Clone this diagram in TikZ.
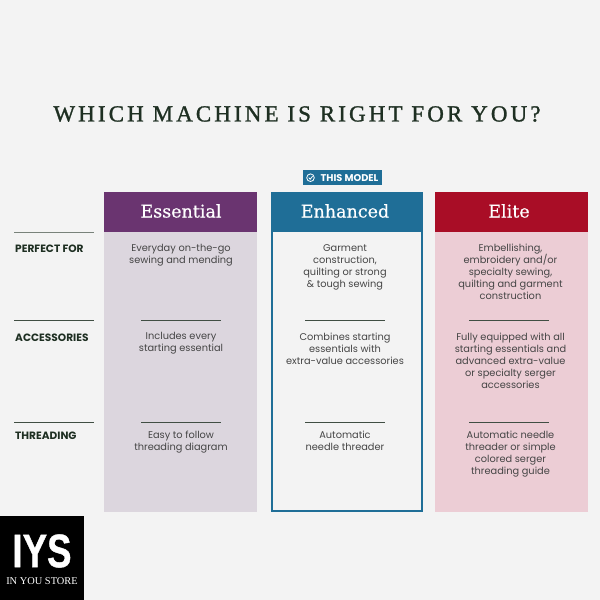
\documentclass[tikz,border=0pt]{standalone}
\usepackage{fontspec}
\setmainfont{Poppins}
\newfontfamily\slab[FakeBold=0.4]{DejaVu Serif}
\newfontfamily\titlef[LetterSpace=13.5,FakeBold=1.2]{Liberation Serif}
\newfontfamily\logof{Liberation Serif}
\newfontfamily\logob[FakeBold=1]{Liberation Sans}
\definecolor{bgc}{HTML}{F3F3F3}
\definecolor{txt}{HTML}{454545}
\definecolor{dark}{HTML}{1E2F22}
\definecolor{purp}{HTML}{6A3470}
\definecolor{purl}{HTML}{DCD6DE}
\definecolor{blu}{HTML}{1F6E97}
\definecolor{redd}{HTML}{A90D26}
\definecolor{redl}{HTML}{ECCDD5}
\tikzset{
 x=1pt,y=-1pt,
 body/.style={font=\fontsize{9.8}{12}\selectfont,text=txt,align=center,anchor=north,inner sep=0pt},
 rowlab/.style={font=\fontsize{10.6}{12}\selectfont\bfseries,text=dark,anchor=west,inner sep=0pt},
 head/.style={font=\slab\fontsize{17.5}{20}\selectfont,text=white,anchor=center,inner sep=0pt},
 rule/.style={line width=0.9pt,draw=dark!85},
}
\begin{document}
\begin{tikzpicture}
\useasboundingbox (0,0) rectangle (600,600);
\fill[bgc] (0,0) rectangle (600,600);
\node[font=\titlef\fontsize{23}{26}\selectfont,text=dark,inner sep=0pt] (title) at (297,114) {WHICH MACHINE IS RIGHT FOR YOU?};
% columns
\fill[purl] (104,232) rectangle (257,512);
\fill[purp] (104,192) rectangle (257,232);
\fill[redl] (435,232) rectangle (588,512);
\fill[redd] (435,192) rectangle (588,232);
\fill[blu] (271,192) rectangle (423,232);
\draw[blu,line width=1.8pt] (271.9,232) -- (271.9,511.1) -- (422.1,511.1) -- (422.1,232);
\node[head] (h1) at (181,211) {Essential};
\node[head] (h2) at (345,211) {Enhanced};
\node[head] (h3) at (509,211) {Elite};
% badge
\fill[blu] (303,170) rectangle (382,185);
\draw[white,line width=0.8pt] (310.5,177.7) circle (3.8);
\draw[white,line width=0.8pt] (308.7,177.6) -- (310.2,179.2) -- (312.6,176.2);
\node[font=\fontsize{9.8}{10}\selectfont\bfseries,text=white,inner sep=0pt] (badge) at (349.5,177.7) {THIS MODEL};
% left labels
\draw[rule,draw=dark!60] (14,232) -- (94,232);
\draw[rule] (14,320) -- (94,320);
\draw[rule] (14,422.5) -- (94,422.5);
\node[rowlab] (l1) at (15,248.5) {PERFECT FOR};
\node[rowlab] (l2) at (15,337.5) {ACCESSORIES};
\node[rowlab] (l3) at (15,435.5) {THREADING};
% inner rules
\foreach \cx in {181,345,509}{
 \draw[rule] (\cx-40,320) -- (\cx+40,320);
 \draw[rule] (\cx-40,422.5) -- (\cx+40,422.5);
}
% body text
\node[body] (a1) at (181,244) {Everyday on-the-go\\sewing and mending};
\node[body] (b1) at (345,244) {Garment\\construction,\\quilting or strong\\\& tough sewing};
\node[body] (c1) at (510.5,244) {Embellishing,\\embroidery and/or\\specialty sewing,\\quilting and garment\\construction};
\node[body] (a2) at (181,332.5) {Includes every\\starting essential};
\node[body] (b2) at (345,332.5) {Combines starting\\essentials with\\extra-value accessories};
\node[body] (c2) at (510.5,332.5) {Fully equipped with all\\starting essentials and\\advanced extra-value\\or specialty serger\\accessories};
\node[body] (a3) at (181,431) {Easy to follow\\threading diagram};
\node[body] (b3) at (345,431) {Automatic\\needle threader};
\node[body] (c3) at (510.5,431) {Automatic needle\\threader or simple\\colored serger\\threading guide};
% logo
\fill[black] (0,516) rectangle (84,600);
\node[font=\logob\bfseries\fontsize{47}{47}\selectfont,text=white,inner sep=0pt,xscale=0.78] (logo) at (42,551) {IYS};
\node[font=\logof\fontsize{10.4}{11}\selectfont,text=white,inner sep=0pt] (logot) at (42,581) {IN YOU STORE};
\end{tikzpicture}
\end{document}
